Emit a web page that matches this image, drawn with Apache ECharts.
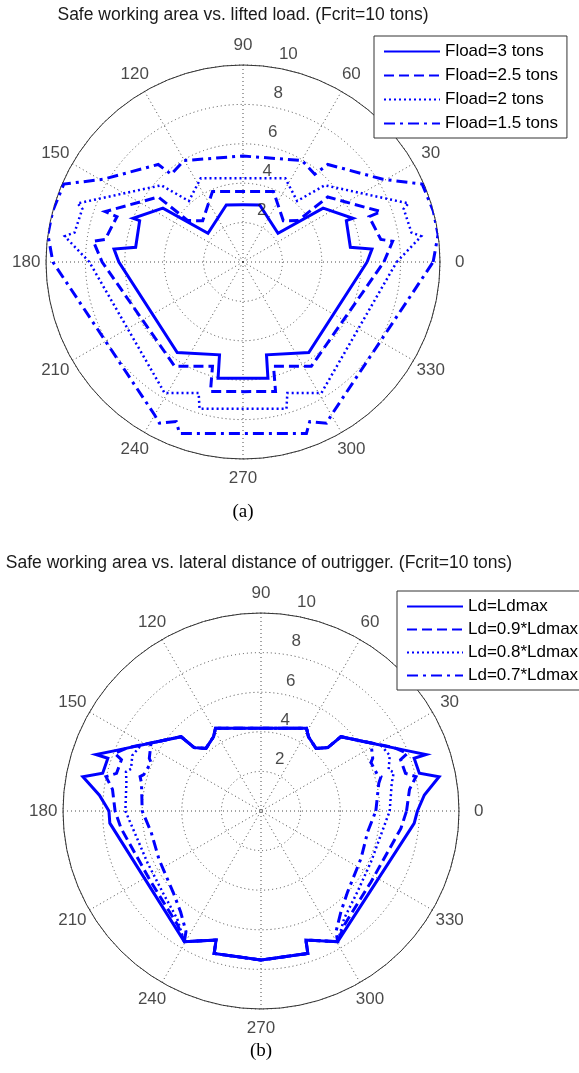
<!DOCTYPE html>
<html>
<head>
<meta charset="utf-8">
<script src="https://cdn.jsdelivr.net/npm/echarts@6/dist/echarts.min.js"></script>
<style>
html,body{margin:0;padding:0;background:#fff;}
#c{width:579px;height:1073px;}
</style>
</head>
<body>
<div id="c"></div>
<script>
// ---- tick labels ----
const angleTicks = [0, 30, 60, 90, 120, 150, 180, 210, 240, 270, 300, 330];
const radiusTicks = [2, 4, 6, 8, 10];

// ---- chart (a): safe working area vs lifted load ----
const fload3Angles = [0, 5.7, 7.8, 21.8, 21.7, 33.9, 39.4, 73.7, 90, 106.3, 140.6, 146.1, 158.3, 158.2, 172.2, 174.3, 180, 234, 255.8, 257.9, 270, 282.1, 284.2, 306, 360];
const fload3Radii  = [6.30, 6.58, 5.50, 5.65, 6.01, 4.90, 2.30, 3.02, 2.90, 3.02, 2.30, 4.90, 6.01, 5.65, 5.50, 6.58, 6.30, 5.68, 4.86, 6.04, 5.90, 6.04, 4.86, 5.68, 6.30];

const fload25Angles = [0, 7.9, 9.3, 19.8, 20.1, 37.5, 36.9, 45.7, 66.6, 90, 113.4, 134.3, 143.1, 142.5, 159.9, 160.2, 170.7, 172.1, 180, 236.8, 253.7, 255.9, 270, 284.1, 286.3, 303.2, 360];
const fload25Radii  = [7.15, 7.67, 7.09, 6.80, 7.45, 5.42, 3.50, 2.93, 3.90, 3.58, 3.90, 2.93, 3.50, 5.42, 7.45, 6.80, 7.09, 7.67, 7.15, 6.33, 5.52, 6.78, 6.58, 6.78, 5.52, 6.33, 7.15];

const fload2Angles = [0, 8.2, 9.95, 18.3, 19.5, 43.2, 48.4, 63.2, 90, 116.8, 131.6, 136.8, 160.5, 161.7, 170.05, 171.8, 180, 239.1, 251.3, 253.5, 270, 286.5, 288.7, 300.9, 360];
const fload2Radii  = [7.8, 9.14, 8.68, 8.59, 8.91, 5.69, 4.14, 4.76, 4.25, 4.76, 4.14, 5.69, 8.91, 8.59, 8.68, 9.14, 7.8, 7.75, 7.02, 7.77, 7.45, 7.77, 7.02, 7.75, 7.8];

const fload15Angles = [0, 8, 15, 23.5, 30.6, 49.0, 50.7, 59.8, 90, 120.2, 129.3, 131.0, 149.4, 156.5, 165, 172, 180, 240, 242.6, 247.3, 249.7, 270, 290.3, 292.7, 297.4, 300, 360];
const fload15Radii  = [9.65, 10, 10, 9.92, 8.25, 6.56, 5.75, 5.96, 5.38, 5.96, 5.75, 6.56, 8.25, 9.92, 10, 10, 9.65, 8.97, 9.22, 8.78, 9.28, 8.7, 9.28, 8.78, 9.22, 8.97, 9.65];

// ---- chart (b): safe working area vs lateral distance of outrigger ----
const ldmaxAngles = [0, 5.6, 10.9, 13.4, 19.0, 18.9, 23.0, 42.9, 43.5, 48.7, 57.4, 61.2, 90, 118.8, 122.6, 131.3, 136.5, 137.1, 157, 161.1, 161, 166.6, 169.1, 174.4, 180, 184.6, 239.6, 250.8, 251.8, 270, 288.2, 289.2, 300.4, 355.4, 360];
const ldmaxRadii  = [7.9, 8.29, 9.16, 8.22, 8.18, 8.81, 7.87, 5.51, 4.65, 4.21, 4.45, 4.77, 4.18, 4.77, 4.45, 4.21, 4.65, 5.51, 7.87, 8.81, 8.18, 8.22, 9.16, 8.2, 7.68, 7.66, 7.65, 6.90, 7.57, 7.53, 7.57, 6.90, 7.65, 7.76, 7.9];

const ld09Angles = [0, 8.3, 12.5, 14.6, 20.2, 21.5, 25.4, 42.9, 43.5, 48.7, 57.4, 61.2, 90, 118.8, 122.6, 131.3, 136.5, 137.1, 154.6, 158.5, 159.8, 165.4, 167.5, 171.7, 180, 187.1, 212.7, 233.8, 239.6, 250.8, 251.8, 270, 288.2, 289.2, 300.4, 306.2, 327.3, 352.9, 360];
const ld09Radii  = [7.35, 7.58, 8.02, 7.54, 7.51, 7.95, 7.45, 5.51, 4.65, 4.21, 4.45, 4.77, 4.18, 4.77, 4.45, 4.21, 4.65, 5.51, 7.45, 7.95, 7.51, 7.54, 8.02, 7.58, 7.37, 7.12, 6.61, 7.13, 7.65, 6.90, 7.57, 7.53, 7.57, 6.90, 7.65, 7.13, 6.61, 7.12, 7.35];

const ld08Angles = [0, 12.0, 16.2, 18.0, 23.3, 28.8, 42.9, 43.5, 48.7, 57.4, 61.2, 90, 118.8, 122.6, 131.3, 136.5, 137.1, 151.2, 156.7, 162, 163.8, 168, 180, 204.7, 219.8, 232.2, 239.6, 250.8, 251.8, 270, 288.2, 289.2, 300.4, 307.8, 320.2, 335.3, 360];
const ld08Radii  = [6.5, 6.75, 6.98, 6.78, 7.08, 6.91, 5.51, 4.65, 4.21, 4.45, 4.77, 4.18, 4.77, 4.45, 4.21, 4.65, 5.51, 6.91, 7.08, 6.9, 7.1, 6.95, 6.85, 6.3, 6.45, 6.9, 7.65, 6.90, 7.57, 7.53, 7.57, 6.90, 7.65, 6.86, 6.35, 6.12, 6.5];

const ld07Angles = [0, 13.2, 15.9, 17.2, 23.8, 25.3, 31.7, 42.9, 43.5, 48.7, 57.4, 61.2, 90, 118.8, 122.6, 131.3, 136.5, 137.1, 148.3, 154.7, 156.2, 162.8, 164.1, 166.8, 180, 190.9, 205.3, 222.9, 231.5, 238.1, 239.6, 250.8, 251.8, 270, 288.2, 289.2, 300.4, 301.9, 308.5, 317.1, 334.7, 349.1, 360];
const ld07Radii  = [5.8, 6.11, 6.30, 6.16, 6.07, 6.24, 6.53, 5.51, 4.65, 4.21, 4.45, 4.77, 4.18, 4.77, 4.45, 4.21, 4.65, 5.51, 6.53, 6.24, 6.07, 6.2, 6.35, 6.2, 6.0, 5.65, 5.7, 6.05, 6.52, 7.17, 7.65, 6.90, 7.57, 7.53, 7.57, 6.90, 7.65, 7.17, 6.49, 5.98, 5.59, 5.49, 5.8];

const namesA = ['Fload=3 tons', 'Fload=2.5 tons', 'Fload=2 tons', 'Fload=1.5 tons'];
const namesB = ['Ld=Ldmax', 'Ld=0.9*Ldmax', 'Ld=0.8*Ldmax', 'Ld=0.7*Ldmax'];

// ---- build ----
const FONT = '"Liberation Sans", Arial, Helvetica, sans-serif';
const BLUE = '#0000ff';
const GRID = '#4a4a4a';
const pairs = (radii, angles) => radii.map((r, i) => [r, angles[i]]);

const lineTypes = [
  { type: 'solid', width: 3 },
  { type: [10, 5], width: 3 },
  { type: [2, 3], width: 2.5 },
  { type: [11, 5, 3, 5], width: 3 }
];

function curve(name, polarIndex, radii, angles, k) {
  return {
    type: 'line', name, coordinateSystem: 'polar', polarIndex,
    data: pairs(radii, angles), symbol: 'none', showSymbol: false, clip: false,
    animation: false, z: 3,
    lineStyle: { color: BLUE, width: lineTypes[k].width, type: lineTypes[k].type, cap: 'butt', join: 'miter' },
    itemStyle: { color: BLUE }
  };
}

function angleLabels(polarIndex) {
  return {
    type: 'scatter', coordinateSystem: 'polar', polarIndex, silent: true, clip: false,
    data: angleTicks.map(a => [11, a]), symbolSize: 1,
    itemStyle: { color: 'rgba(0,0,0,0)' }, animation: false,
    label: { show: true, position: 'inside', formatter: p => String(p.value[1]),
             fontSize: 17, color: '#1a1a1a', fontFamily: FONT }
  };
}
function radiusLabels(polarIndex) {
  return {
    type: 'scatter', coordinateSystem: 'polar', polarIndex, silent: true, clip: false,
    data: radiusTicks.map(r => [r, 82]), symbolSize: 1,
    itemStyle: { color: 'rgba(0,0,0,0)' }, animation: false, z: 4,
    label: { show: true, position: [9, -12], align: 'left', verticalAlign: 'middle',
             formatter: p => String(p.value[0]), fontSize: 17, color: '#1a1a1a', fontFamily: FONT }
  };
}

function angleAxis(polarIndex) {
  return {
    polarIndex, type: 'value', min: 0, max: 360, interval: 30, startAngle: 0, clockwise: false,
    axisLine: { show: true, lineStyle: { color: '#333', width: 1 } },
    axisTick: { show: false }, axisLabel: { show: false },
    splitLine: { show: true, lineStyle: { color: GRID, width: 1, type: [1, 3] } }
  };
}
function radiusAxis(polarIndex) {
  return {
    polarIndex, type: 'value', min: 0, max: 10, interval: 2,
    axisLine: { show: false }, axisTick: { show: false }, axisLabel: { show: false },
    splitLine: { show: true, lineStyle: { color: GRID, width: 1, type: [1, 3] } }
  };
}
function legend(data, left, top, gap) {
  return {
    data, orient: 'vertical', left, top, itemWidth: 56, itemHeight: 14, itemGap: gap,
    padding: [7, 9, 6, 9], borderColor: '#333', borderWidth: 1, backgroundColor: '#fff',
    itemStyle: { opacity: 0, color: 'rgba(0,0,0,0)', borderWidth: 0 },
    textStyle: { fontSize: 17, color: '#000', fontFamily: FONT }, selectedMode: false, z: 10
  };
}

const TITLE_STYLE = { fontSize: 17.5, fontWeight: 'normal', color: '#1a1a1a', fontFamily: FONT };
const SERIF_STYLE = { fontSize: 19, fontWeight: 'normal', color: '#000', fontFamily: '"Liberation Serif", "Times New Roman", serif' };

const option = {
  backgroundColor: '#fff',
  animation: false,
  title: [
    { text: 'Safe working area vs. lifted load. (Fcrit=10 tons)', left: 243, top: 6, textAlign: 'center', padding: 0, textStyle: TITLE_STYLE },
    { text: 'Safe working area vs. lateral distance of outrigger. (Fcrit=10 tons)', left: 259, top: 554, textAlign: 'center', padding: 0, textStyle: TITLE_STYLE },
    { text: '(a)', left: 243, top: 503, textAlign: 'center', padding: 0, textStyle: SERIF_STYLE },
    { text: '(b)', left: 261, top: 1042, textAlign: 'center', padding: 0, textStyle: SERIF_STYLE }
  ],
  legend: [ legend(namesA, 374, 36, 7), legend(namesB, 397, 591, 6) ],
  polar: [ { center: [243, 262], radius: 197 }, { center: [261, 811], radius: 198 } ],
  angleAxis: [ angleAxis(0), angleAxis(1) ],
  radiusAxis: [ radiusAxis(0), radiusAxis(1) ],
  series: [
    curve(namesA[0], 0, fload3Radii, fload3Angles, 0),
    curve(namesA[1], 0, fload25Radii, fload25Angles, 1),
    curve(namesA[2], 0, fload2Radii, fload2Angles, 2),
    curve(namesA[3], 0, fload15Radii, fload15Angles, 3),
    curve(namesB[0], 1, ldmaxRadii, ldmaxAngles, 0),
    curve(namesB[1], 1, ld09Radii, ld09Angles, 1),
    curve(namesB[2], 1, ld08Radii, ld08Angles, 2),
    curve(namesB[3], 1, ld07Radii, ld07Angles, 3),
    angleLabels(0), angleLabels(1), radiusLabels(0), radiusLabels(1)
  ]
};

const chart = echarts.init(document.getElementById('c'), null, { renderer: 'canvas' });
chart.setOption(option);
</script>
</body>
</html>
